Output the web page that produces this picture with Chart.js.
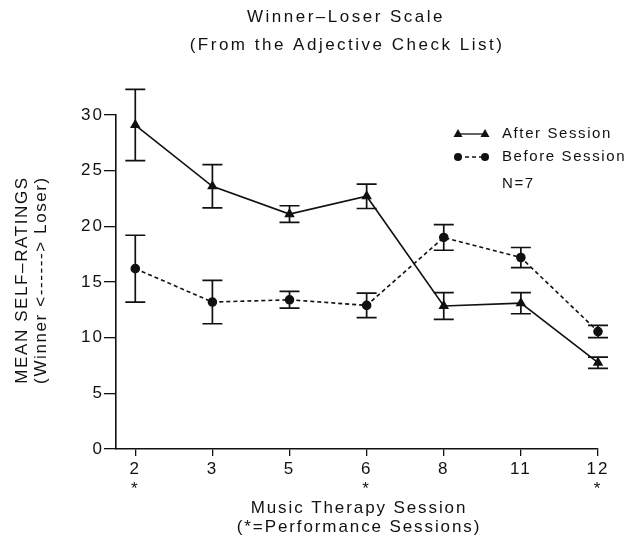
<!DOCTYPE html>
<html>
<head>
<meta charset="utf-8">
<script src="https://cdn.jsdelivr.net/npm/chart.js@4"></script>
<style>
  body { margin: 0; background: #fff; }
  canvas { display: block; }
</style>
</head>
<body>
<canvas id="chart" width="629" height="536"></canvas>
<script>
// sessions on the x axis, * marks the performance sessions
const sessions = ['2', '3', '5', '6', '8', '11', '12'];
const performance = [true, false, false, true, false, false, true];

// mean self-ratings and error bar half-lengths
const afterMeans = [29.1, 23.6, 21.1, 22.7, 12.85, 13.1, 7.75];
const afterErr = [3.2, 1.95, 0.75, 1.1, 1.2, 0.95, 0.5];
const beforeMeans = [16.2, 13.2, 13.4, 12.9, 19.0, 17.2, 10.55];
const beforeErr = [3.0, 1.95, 0.75, 1.1, 1.15, 0.9, 0.55];

const yMin = 0, yMax = 30, yStep = 5;

const FONT = '"Liberation Sans", Arial, sans-serif';
const INK = '#111';

function points(values) {
    return values.map((v, i) => ({ x: i, y: v }));
}

// wide letter spacing like the plotter font of the original
const spacing = {
    id: 'spacing',
    beforeLayout(chart) { chart.ctx.letterSpacing = '2px'; },
    beforeDraw(chart) { chart.ctx.letterSpacing = '2px'; }
};

const errorBars = {
    id: 'errorBars',
    afterDatasetsDraw(chart) {
        const ctx = chart.ctx;
        const xs = chart.scales.x, ys = chart.scales.y;
        ctx.save();
        ctx.strokeStyle = INK;
        ctx.lineWidth = 1.7;
        chart.data.datasets.forEach(ds => {
            ds.data.forEach((p, i) => {
                const e = ds.errors[i];
                const x = xs.getPixelForValue(p.x);
                const top = ys.getPixelForValue(p.y + e);
                const bot = ys.getPixelForValue(p.y - e);
                ctx.beginPath();
                ctx.moveTo(x, top); ctx.lineTo(x, bot);
                ctx.moveTo(x - 10, top); ctx.lineTo(x + 10, top);
                ctx.moveTo(x - 10, bot); ctx.lineTo(x + 10, bot);
                ctx.stroke();
            });
        });
        ctx.restore();
    }
};

function marker(ctx, style, x, y) {
    ctx.beginPath();
    if (style === 'triangle') {
        ctx.moveTo(x, y - 5); ctx.lineTo(x + 4.5, y + 3); ctx.lineTo(x - 4.5, y + 3);
        ctx.closePath();
    } else {
        ctx.arc(x, y, 4, 0, Math.PI * 2);
    }
    ctx.fill();
}

const texts = {
    id: 'texts',
    afterDraw(chart) {
        const ctx = chart.ctx;
        ctx.save();
        ctx.fillStyle = INK;
        ctx.textAlign = 'center';
        ctx.textBaseline = 'middle';

        // titles
        ctx.font = '17px ' + FONT;
        ctx.letterSpacing = '2.5px';
        ctx.fillText('Winner\u2013Loser Scale', 346, 17);
        ctx.fillText('(From the Adjective Check List)', 347, 45);

        // x axis title
        ctx.font = '17px ' + FONT;
        ctx.letterSpacing = '1.9px';
        ctx.fillText('Music Therapy Session', 359, 508);
        ctx.fillText('(*=Performance Sessions)', 359, 527);

        // y axis title
        ctx.save();
        ctx.translate(22, 280);
        ctx.rotate(-Math.PI / 2);
        ctx.letterSpacing = '1.6px';
        ctx.fillText('MEAN SELF\u2013RATINGS', 0, 0);
        ctx.fillText('(Winner <------> Loser)', 0, 19);
        ctx.restore();

        // legend
        ctx.textAlign = 'left';
        ctx.font = '15px ' + FONT;
        ctx.letterSpacing = '1.6px';
        chart.data.datasets.forEach((ds, k) => {
            const y = 134 + k * 23;
            ctx.strokeStyle = INK;
            ctx.lineWidth = 1.3;
            ctx.setLineDash(ds.borderDash || []);
            ctx.beginPath();
            ctx.moveTo(458, y); ctx.lineTo(485, y);
            ctx.stroke();
            ctx.setLineDash([]);
            marker(ctx, ds.pointStyle, 458, y);
            marker(ctx, ds.pointStyle, 485, y);
            ctx.fillText(ds.label, 502, y);
        });
        ctx.fillText('N=7', 502, 184);
        ctx.restore();
    }
};

new Chart('chart', {
    type: 'line',
    data: {
        datasets: [{
            label: 'After Session',
            data: points(afterMeans),
            errors: afterErr,
            borderColor: INK,
            backgroundColor: INK,
            borderWidth: 1.6,
            pointStyle: 'triangle',
            pointRadius: 4.5,
            tension: 0
        }, {
            label: 'Before Session',
            data: points(beforeMeans),
            errors: beforeErr,
            borderColor: INK,
            backgroundColor: INK,
            borderWidth: 1.6,
            borderDash: [4, 3],
            pointStyle: 'circle',
            pointRadius: 4,
            tension: 0
        }]
    },
    options: {
        responsive: false,
        animation: false,
        clip: false,
        layout: { padding: { top: 115, right: 31, bottom: 0, left: 0 } },
        plugins: {
            legend: { display: false },
            title: { display: false },
            tooltip: { enabled: false }
        },
        scales: {
            x: {
                type: 'linear',
                min: -0.25,
                max: sessions.length - 1,
                afterBuildTicks: s => { s.ticks = sessions.map((_, i) => ({ value: i })); },
                afterFit: s => { s.height = 87; },
                grid: { drawOnChartArea: false, tickLength: 7, color: INK, lineWidth: 1.3 },
                border: { color: INK, width: 1.6 },
                ticks: {
                    autoSkip: false,
                    maxRotation: 0,
                    padding: 4,
                    color: INK,
                    font: { family: FONT, size: 17, lineHeight: 1.15 },
                    callback: v => performance[v] ? [sessions[v], '*'] : sessions[v]
                }
            },
            y: {
                min: yMin,
                max: yMax,
                afterFit: s => { s.width = 116; },
                grid: { drawOnChartArea: false, tickLength: 12, color: INK, lineWidth: 1.3 },
                border: { color: INK, width: 1.6 },
                ticks: {
                    stepSize: yStep,
                    padding: 0,
                    color: INK,
                    font: { family: FONT, size: 17 }
                }
            }
        }
    },
    plugins: [spacing, errorBars, texts]
});
</script>
</body>
</html>
